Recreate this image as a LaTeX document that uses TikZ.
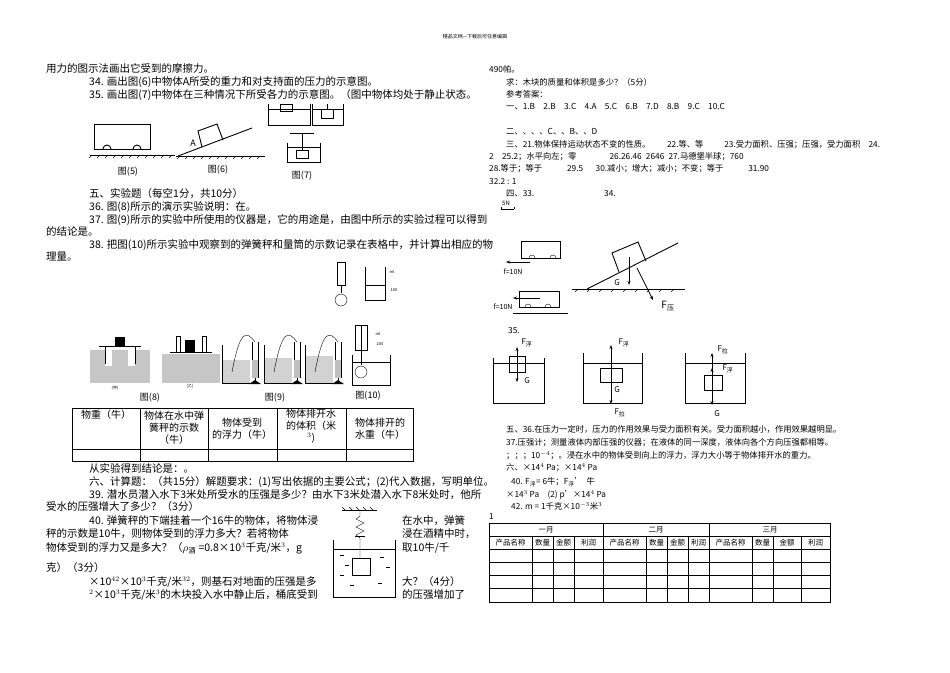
\documentclass[tikz,border=0pt]{standalone}
\usepackage{amsmath}
\usepackage{fontspec}
\setmainfont{Noto Sans CJK SC}
\usetikzlibrary{arrows.meta}
\tikzset{
 L/.style={anchor=base west,inner sep=0pt,font=\fontsize{10.5}{13}\selectfont},
 R/.style={anchor=base west,inner sep=0pt,font=\fontsize{8.3}{10}\selectfont},
 hand/.style={line width=0.9pt},
 arr/.style={line width=0.8pt,-{Stealth[length=4pt]}},
 tb/.style={line width=0.5pt},
 figcap/.style={inner sep=0pt,font=\fontsize{9}{10}\selectfont},
}
\begin{document}
\begin{tikzpicture}[x=1pt,y=-1pt]
\useasboundingbox (0,0) rectangle (950,672);
\fill[white] (0,0) rectangle (950,672);
\node[inner sep=0pt,font=\fontsize{5}{6}\selectfont] (hdr) at (475,37) {精品文档---下载后可任意编辑};
% ---------- left column text
\node[L] (l1) at (46,72) {用力的图示法画出它受到的摩擦力。};
\node[L] (l2) at (89,85) {34. 画出图(6)中物体A所受的重力和对支持面的压力的示意图。};
\node[L] (l3) at (89,98) {35. 画出图(7)中物体在三种情况下所受各力的示意图。（图中物体均处于静止状态。};
% fig 5
\draw[hand] (94,124) rectangle (150,149);
\draw[hand] (103,149) arc (180:360:4);\draw[hand] (133,149) arc (180:360:4);
\draw[hand] (90,155) -- (175,155);
\foreach \x in {92,100,...,172} \draw (\x,155) -- (\x-3,158);
\node[figcap] (c5) at (128,172) {图(5)};
% fig 6
\draw[hand] (176,156) -- (265,156);
\foreach \x in {180,188,...,262} \draw (\x,156) -- (\x-3,159);
\draw[hand] (178,156) -- (252,128);
\draw[hand] (202,147) -- (198,131) -- (217,124) -- (223,140);
\node[figcap] (cA) at (193,143) {A};
\node[figcap] (c6) at (218,170) {图(6)};
% fig 7 beakers
\draw[hand] (268,104) -- (268,125) -- (310,125) -- (310,104);
\draw (268,109) -- (310,109);
\draw[hand] (280,104) rectangle (292,111);
\draw[hand] (312,104) -- (312,125) -- (343,125) -- (343,104);
\draw (312,109) -- (343,109);
\draw[hand] (321,109) rectangle (333,118); \draw (327,109) -- (327,104);
\draw[hand] (287,143) -- (287,162) -- (320,162) -- (320,143);
\draw (287,147) -- (320,147);
\draw (290,133) -- (314,133); \draw (302,133) -- (302,150);
\draw[hand] (296,150) rectangle (308,158);
\node[figcap] (c7) at (302,176) {图(7)};
\node[L] (l4) at (89,197) {五、实验题（每空1分，共10分）};
\node[L] (l5) at (89,210) {36. 图(8)所示的演示实验说明：在。};
\node[L] (l6) at (89,223) {37. 图(9)所示的实验中所使用的仪器是，它的用途是，由图中所示的实验过程可以得到};
\node[L] (l7) at (46,235) {的结论是。};
\node[L] (l8) at (89,248) {38. 把图(10)所示实验中观察到的弹簧秤和量筒的示数记录在表格中，并计算出相应的物};
\node[L] (l9) at (46,260) {理量。};
% fig 10 top (sketch)
\draw (337,262) rectangle (345,285); \draw (341,285) -- (341,293);
\draw (341,300) circle (6);
\draw (365,267) -- (365,300) -- (385,300) -- (385,267); \draw (365,285) -- (385,285);
\node[inner sep=0pt,font=\fontsize{4}{5}\selectfont] (ml) at (392,272) {ml};
\node[inner sep=0pt,font=\fontsize{4}{5}\selectfont] (m100) at (394,290) {100};
% fig 8
\fill[gray!45] (90,350) rectangle (150,383);
\fill[white] (105,350) rectangle (112,366); \fill[white] (128,350) rectangle (135,366);
\draw[thick] (99,346) -- (141,346); \draw (105,346) -- (105,364) (135,346) -- (135,364);
\fill (115,337) rectangle (125,346);
\node[inner sep=0pt,font=\fontsize{4}{5}\selectfont] (ja) at (115,388) {(甲)};
\fill[gray!45] (162,354) rectangle (220,383);
\draw[thick] (170,352) -- (212,352); \fill (185,340) rectangle (195,352);
\draw (176,336) rectangle (180,352); \draw (202,336) rectangle (206,352);
\node[inner sep=0pt,font=\fontsize{4}{5}\selectfont] (yi) at (190,386) {(乙)};
\node[figcap] (c8) at (150,398) {图(8)};
% fig 9
\foreach \o in {0,42,83}{
 \fill[gray!35] (222+\o,360-\o*0.05) rectangle (250+\o,383);
 \draw (222+\o,345) -- (222+\o,383) -- (250+\o,383);
 \draw (252+\o,342) -- (252+\o,378) (258+\o,342) -- (258+\o,378);
 \fill[gray!50] (252+\o,360) rectangle (258+\o,378);
 \draw (255+\o,378) -- (255+\o,384); \fill (249+\o,384) -- (261+\o,384) -- (255+\o,380) -- cycle;
 \draw (232+\o,372) .. controls (240+\o,330) and (246+\o,330) .. (255+\o,342);
}
\node[figcap] (c9) at (275,398) {图(9)};
% fig 10 bottom
\draw (355,325) rectangle (367,350); \draw (361,325) -- (361,350);
\draw (361,350) -- (361,365);
\draw (352,355) -- (352,385) -- (390,385) -- (390,355);
\draw (352,362) -- (390,362); \draw (361,372) circle (6);
\node[inner sep=0pt,font=\fontsize{4}{5}\selectfont] (f10a) at (378,334) {ml};
\node[inner sep=0pt,font=\fontsize{4}{5}\selectfont] (f10b) at (380,344) {200};
\node[figcap] (c10) at (368,396) {图(10)};
% table left
\draw[tb] (72,408) rectangle (413,461); \draw[tb] (72,449) -- (413,449);
\foreach \x in {140,208,277,346} \draw[tb] (\x,408) -- (\x,461);
\begin{scope}[every node/.style={inner sep=0pt,align=center,font=\fontsize{10}{12}\selectfont}]
\node (t1) at (106,415) {物重（牛）};
\node (t2) at (174,428) {物体在水中弹\\簧秤的示数\\（牛）};
\node (t3) at (242,429) {物体受到\\的浮力（牛）};
\node (t4) at (311,426) {物体排开水\\的体积（米\\$^3$)};
\node (t5) at (380,429) {物体排开的\\水重（牛）};
\end{scope}
\node[L] (l10) at (89,472) {从实验得到结论是：。};
\node[L] (l11) at (89,485) {六、计算题：（共15分）解题要求：(1)写出依据的主要公式；(2)代入数据，写明单位。};
\node[L] (l12) at (89,498) {39. 潜水员潜入水下3米处所受水的压强是多少？由水下3米处潜入水下8米处时，他所};
\node[L] (l13) at (46,510) {受水的压强增大了多少？（3分）};
\node[L] (l14) at (89,524) {40. 弹簧秤的下端挂着一个16牛的物体，将物体浸};
\node[L] (l15) at (46,537) {秤的示数是10牛，则物体受到的浮力多大？若将物体};
\node[L] (l16) at (46,551) {物体受到的浮力又是多大？（$\rho_{\text{酒}}$ =0.8×10$^3$千克/米$^3$，g};
\node[L] (l17) at (46,571) {克）（3分）};
\node[L] (l18) at (89,585) {×10$^{42}$×10$^3$千克/米$^{32}$，则基石对地面的压强是多};
\node[L] (l19) at (89,598) {$^2$×10$^3$千克/米$^3$的木块投入水中静止后，桶底受到};
\node[L] (r1) at (402,524) {在水中，弹簧};
\node[L] (r2) at (402,537) {浸在酒精中时，};
\node[L] (r3) at (402,551) {取10牛/千};
\node[L] (r4) at (402,585) {大？（4分）};
\node[L] (r5) at (402,598) {的压强增加了};
% spring figure
\draw[hand] (342,510) -- (377,510);
\foreach \x in {345,352,...,375} \draw (\x,510) -- (\x-3,507);
\draw (360,510) -- (360,516) -- (356,519) -- (364,523) -- (356,527) -- (364,531) -- (356,535) -- (360,538) -- (360,558);
\draw (355,536) -- (365,536);
\draw[hand] (333,540) -- (333,597) -- (395,597) -- (395,540);
\draw (333,549) -- (395,549);
\draw[hand] (352,558) rectangle (370,575);
\foreach \x/\y in {340/555,345/565,340/575,380/557,386/567,378/583,350/585} \draw (\x,\y) -- (\x+4,\y);
% ---------- right column
\node[R] (a1) at (489,72) {490帕。};
\node[R] (a2) at (506,85) {求：木块的质量和体积是多少？（5分）};
\node[R] (a3) at (506,97) {参考答案：};
\node[R] (a4) at (506,109) {一、1.B\quad 2.B\quad 3.C\quad 4.A\quad 5.C\quad 6.B\quad 7.D\quad 8.B\quad 9.C\quad 10.C};
\node[R] (a5) at (506,134) {二、、、、C、、B、、D};
\node[R] (a6) at (506,147) {三、21.物体保持运动状态不变的性质。\hspace{2em}22.等、等\hspace{2.5em}23.受力面积、压强；压强，受力面积\hspace{1em}24.};
\node[R] (a7) at (489,159) {2\hspace{1em}25.2；水平向左；零\hspace{4em}26.26.46\hspace{0.5em}2646\hspace{0.5em}27.马德堡半球；760};
\node[R] (a8) at (489,171) {28.等于；等于\hspace{3em}29.5\hspace{1.5em}30.减小；增大；减小；不变；等于\hspace{3em}31.90};
\node[R] (a9) at (489,184) {32.2 : 1};
\node[R] (a10) at (506,196) {四、33.};
\node[R] (a11) at (604,196) {34.};
\node[inner sep=0pt,font=\fontsize{6}{7}\selectfont] (s5) at (506,203) {5N};
\draw (501,209) -- (514,209) (501,207) -- (501,209) (514,207) -- (514,209);
% carts answer
\draw[hand] (521,241) rectangle (560,258);
\draw (529,258) arc (180:360:3); \draw (550,258) arc (180:360:3);
\coordinate (fa1) at (530,262); \coordinate (fa2) at (506,262);
\draw[arr] (fa1) -- (fa2);
\node[inner sep=0pt,font=\fontsize{7}{8}\selectfont] (f1) at (513,272) {f=10N};
\draw[hand] (519,291) rectangle (559,307);
\draw (525,307) arc (180:360:3); \draw (545,307) arc (180:360:3);
\draw (513,313) -- (568,313);
\coordinate (fb1) at (540,298); \coordinate (fb2) at (513,298);
\draw[arr] (fb1) -- (fb2);
\node[inner sep=0pt,font=\fontsize{7}{8}\selectfont] (f2) at (503,307) {f=10N};
% incline answer
\draw[hand] (572,289) -- (685,289);
\foreach \x in {578,590,...,682} \draw (\x,289) -- (\x-3,292);
\draw[hand] (587,289) -- (678,243);
\draw[hand] (619,272) -- (612,253) -- (638,242) -- (646,261);
\coordinate (g1) at (629,257); \coordinate (g2) at (629,285);
\draw[arr] (g1) -- (g2);
\node[inner sep=0pt,font=\fontsize{8}{9}\selectfont] (gl) at (617,283) {G};
\coordinate (p1) at (637,268); \coordinate (p2) at (653,300);
\draw[arr] (p1) -- (p2);
\node[inner sep=0pt,font=\fontsize{10}{11}\selectfont] (pl) at (668,306) {F$_{\text{压}}$};
\node[R] (a12) at (508,333) {35.};
% beakers answer
\begin{scope}[every node/.style={inner sep=0pt,font=\fontsize{8}{9}\selectfont}]
\draw[hand] (493,358) -- (493,403) -- (544,403) -- (544,358); \draw (493,363) -- (544,363);
\draw[hand] (509,356) rectangle (525,372);
\coordinate (o1) at (517,364); \coordinate (u1) at (517,347); \coordinate (d1) at (517,382);
\draw[arr] (o1) -- (u1); \draw[arr] (o1) -- (d1);
\node (b1u) at (527,343) {F$_{\text{浮}}$}; \node (b1d) at (527,381) {G};
\draw[hand] (583,353) -- (583,403) -- (642,403) -- (642,353); \draw (583,363) -- (642,363);
\draw[hand] (600,368) rectangle (622,382);
\coordinate (o2) at (611,375); \coordinate (u2) at (611,345); \coordinate (d2) at (611,404);
\draw[arr] (o2) -- (u2); \draw[arr] (o2) -- (d2);
\node (b2u) at (624,343) {F$_{\text{浮}}$}; \node (b2g) at (617,390) {G}; \node (b2d) at (620,413) {F$_{\text{拉}}$};
\draw[hand] (685,353) -- (685,403) -- (745,403) -- (745,353); \draw (685,363) -- (745,363);
\draw[hand] (704,375) rectangle (722,390);
\coordinate (o3) at (712,382); \coordinate (u3) at (712,353); \coordinate (m3) at (712,368); \coordinate (d3) at (712,405);
\draw[arr] (o3) -- (u3); \draw[arr] (o3) -- (m3); \draw[arr] (o3) -- (d3);
\node (b3u) at (723,350) {F$_{\text{拉}}$}; \node (b3m) at (728,369) {F$_{\text{浮}}$}; \node (b3d) at (717,414) {G};
\end{scope}
\node[R] (a13) at (506,432) {五、36.在压力一定时，压力的作用效果与受力面积有关。受力面积越小，作用效果越明显。};
\node[R] (a14) at (506,445) {37.压强计；测量液体内部压强的仪器；在液体的同一深度，液体向各个方向压强都相等。};
\node[R] (a15) at (506,458) {；；；10$^{-4}$；。浸在水中的物体受到向上的浮力，浮力大小等于物体排开水的重力。};
\node[R] (a16) at (506,470) {六、×14$^4$ Pa；×14$^4$ Pa};
\node[R] (a17) at (511,484) {40. F$_{\text{浮}}$= 6牛；F$_{\text{浮}}$'\ \ 牛};
\node[R] (a18) at (506,497) {×14$^3$ Pa\quad (2) p'×14$^4$ Pa};
\node[R] (a19) at (511,509) {42. m = 1千克×10$^{-3}$米$^3$};
\node[R] (a20) at (489,519) {1};
% right table
\draw[line width=1pt] (489,523) rectangle (830,602);
\foreach \y in {536,549,562,575,588} \draw[tb] (489,\y) -- (830,\y);
\foreach \x in {603,709} \draw[tb] (\x,523) -- (\x,602);
\foreach \x in {532,553,574,646,667,688,752,773,801} \draw[tb] (\x,536) -- (\x,602);
\begin{scope}[every node/.style={inner sep=0pt,font=\fontsize{7.5}{9}\selectfont}]
\node (m1) at (546,530) {一月}; \node (m2) at (656,530) {二月}; \node (m3) at (770,530) {三月};
\foreach \a/\b/\n in {489/532/产品名称,532/553/数量,553/574/金额,574/603/利润,603/646/产品名称,646/667/数量,667/688/金额,688/709/利润,709/752/产品名称,752/773/数量,773/801/金额,801/830/利润}
 \node at ({(\a+\b)/2},543) {\n};
\end{scope}
\end{tikzpicture}
\end{document}
